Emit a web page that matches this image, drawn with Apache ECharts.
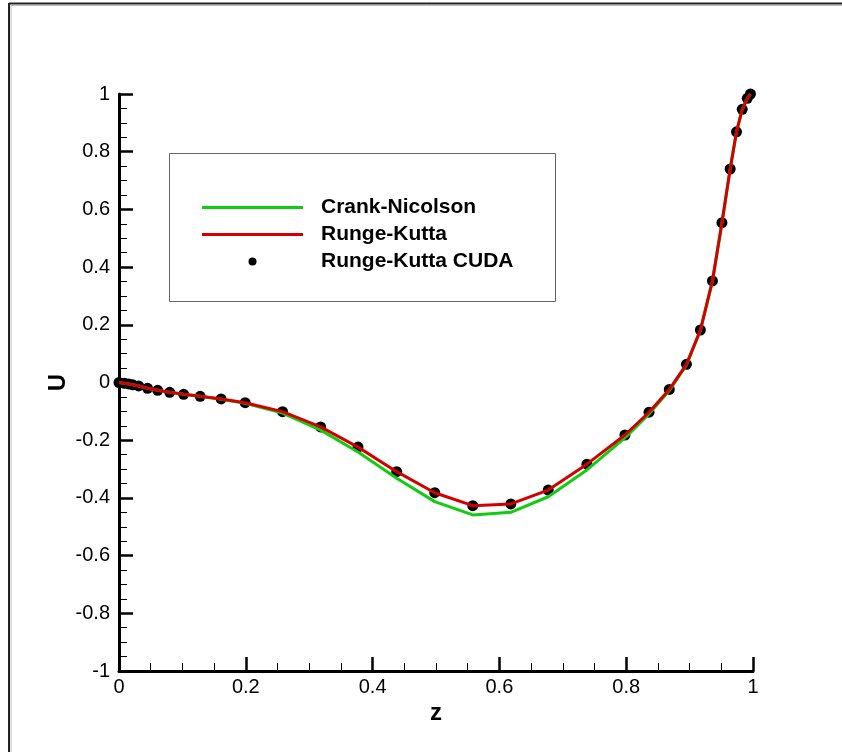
<!DOCTYPE html>
<html>
<head>
<meta charset="utf-8">
<script src="https://cdn.jsdelivr.net/npm/echarts@6/dist/echarts.min.js"></script>
<style>
  html, body { margin: 0; padding: 0; background: #fff; }
  #main { width: 842px; height: 752px; }
</style>
</head>
<body>
<div id="main"></div>
<script>
// grid points in z (clustered near both walls)
var z = [0, 0.0087, 0.0154, 0.0217, 0.031, 0.045, 0.061, 0.080, 0.102, 0.128, 0.161, 0.199,
	0.258, 0.318, 0.377, 0.438, 0.498, 0.558, 0.618, 0.677, 0.738, 0.798,
	0.836, 0.868, 0.895, 0.917, 0.936, 0.951, 0.964, 0.974, 0.983, 0.991, 0.996];

var rungeKutta = [0, -0.003, -0.005, -0.008, -0.012, -0.020, -0.027, -0.034, -0.041, -0.048, -0.057, -0.070,
	-0.101, -0.154, -0.224, -0.309, -0.382, -0.427, -0.421, -0.373, -0.283, -0.182,
	-0.103, -0.024, 0.063, 0.182, 0.352, 0.554, 0.740, 0.869, 0.947, 0.985, 1.0];

var crankNicolson = [0, -0.003, -0.005, -0.008, -0.012, -0.020, -0.027, -0.034, -0.041, -0.048, -0.058, -0.072,
	-0.106, -0.165, -0.241, -0.332, -0.413, -0.459, -0.450, -0.396, -0.303, -0.192,
	-0.109, -0.028, 0.060, 0.180, 0.350, 0.553, 0.740, 0.869, 0.947, 0.985, 1.0];

var rungeKuttaCuda = rungeKutta.slice();

function pairs(xs, ys) {
	var out = [];
	for (let i = 0; i < xs.length; i++) {
		out.push([xs[i], ys[i]]);
	}
	return out;
}

var chartDom = document.getElementById('main');
var myChart = echarts.init(chartDom);
var option;

var font = '"Liberation Sans", Arial, sans-serif';

option = {
	animation: false,
	textStyle: { fontFamily: font },
	grid: {
		left: 119,
		top: 94,
		right: 89,
		bottom: 81
	},
	legend: {
		left: 197,
		top: 192,
		orient: 'vertical',
		itemWidth: 101,
		itemHeight: 8,
		itemGap: 6,
		textStyle: {
			fontFamily: font,
			fontSize: 21,
			fontWeight: 'bold',
			color: '#000',
			padding: [0, 0, 0, 13]
		},
		data: [
			{ name: 'Crank-Nicolson', icon: 'path://M0,0L100,0L100,3L0,3Z' },
			{ name: 'Runge-Kutta', icon: 'path://M0,0L100,0L100,3L0,3Z' },
			{ name: 'Runge-Kutta CUDA', icon: 'circle', itemStyle: { color: '#000', opacity: 1 } }
		],
		selectedMode: false
	},
	graphic: [
		// outer frame (top and left edges visible)
		{ type: 'line', shape: { x1: 9, y1: 3.5, x2: 842, y2: 3.5 }, style: { stroke: '#222', lineWidth: 2 } },
		{ type: 'line', shape: { x1: 9, y1: 3, x2: 9, y2: 752 }, style: { stroke: '#222', lineWidth: 2 } },
		{ type: 'line', shape: { x1: 11, y1: 5.5, x2: 842, y2: 5.5 }, style: { stroke: '#bbb', lineWidth: 1 } },
		{ type: 'line', shape: { x1: 11, y1: 5, x2: 11, y2: 752 }, style: { stroke: '#bbb', lineWidth: 1 } },
		// legend box
		{ type: 'rect', shape: { x: 169.5, y: 153.5, width: 386, height: 148 }, style: { fill: null, stroke: '#666', lineWidth: 1 } }
	],
	xAxis: {
		type: 'value',
		min: 0,
		max: 1,
		interval: 0.2,
		name: 'z',
		nameLocation: 'middle',
		nameGap: 30,
		nameMoveOverlap: false,
		nameTextStyle: { fontFamily: font, fontSize: 24, fontWeight: 'bold', color: '#000' },
		axisLine: { onZero: false, lineStyle: { color: '#000', width: 3 } },
		axisTick: { inside: true, length: 14, lineStyle: { color: '#000', width: 2.5 } },
		minorTick: { show: true, splitNumber: 4, length: 8, lineStyle: { color: '#000', width: 1 } },
		axisLabel: { fontFamily: font, fontSize: 20, color: '#000', margin: 6 },
		splitLine: { show: false }
	},
	yAxis: {
		type: 'value',
		min: -1,
		max: 1,
		interval: 0.2,
		name: 'U',
		nameLocation: 'middle',
		nameGap: 49,
		nameMoveOverlap: false,
		nameTextStyle: { fontFamily: font, fontSize: 24, fontWeight: 'bold', color: '#000' },
		axisLine: { onZero: false, lineStyle: { color: '#000', width: 3 } },
		axisTick: { inside: true, length: 14, lineStyle: { color: '#000', width: 2.5 } },
		minorTick: { show: true, splitNumber: 4, length: 8, lineStyle: { color: '#000', width: 1 } },
		axisLabel: { fontFamily: font, fontSize: 20, color: '#000', margin: 9 },
		splitLine: { show: false }
	},
	series: [
		{
			name: 'Crank-Nicolson',
			type: 'line',
			data: pairs(z, crankNicolson),
			showSymbol: false,
			symbol: 'none',
			color: '#11cc11',
			lineStyle: { color: '#11cc11', width: 3 }
		},
		{
			name: 'Runge-Kutta',
			type: 'line',
			data: pairs(z, rungeKutta),
			showSymbol: false,
			symbol: 'none',
			color: '#d40000',
			lineStyle: { color: '#d40000', width: 3 }
		},
		{
			name: 'Runge-Kutta CUDA',
			type: 'scatter',
			data: pairs(z, rungeKuttaCuda),
			symbol: 'circle',
			symbolSize: 11,
			itemStyle: { color: '#000', opacity: 1 }
		}
	]
};

option && myChart.setOption(option);
</script>
</body>
</html>
